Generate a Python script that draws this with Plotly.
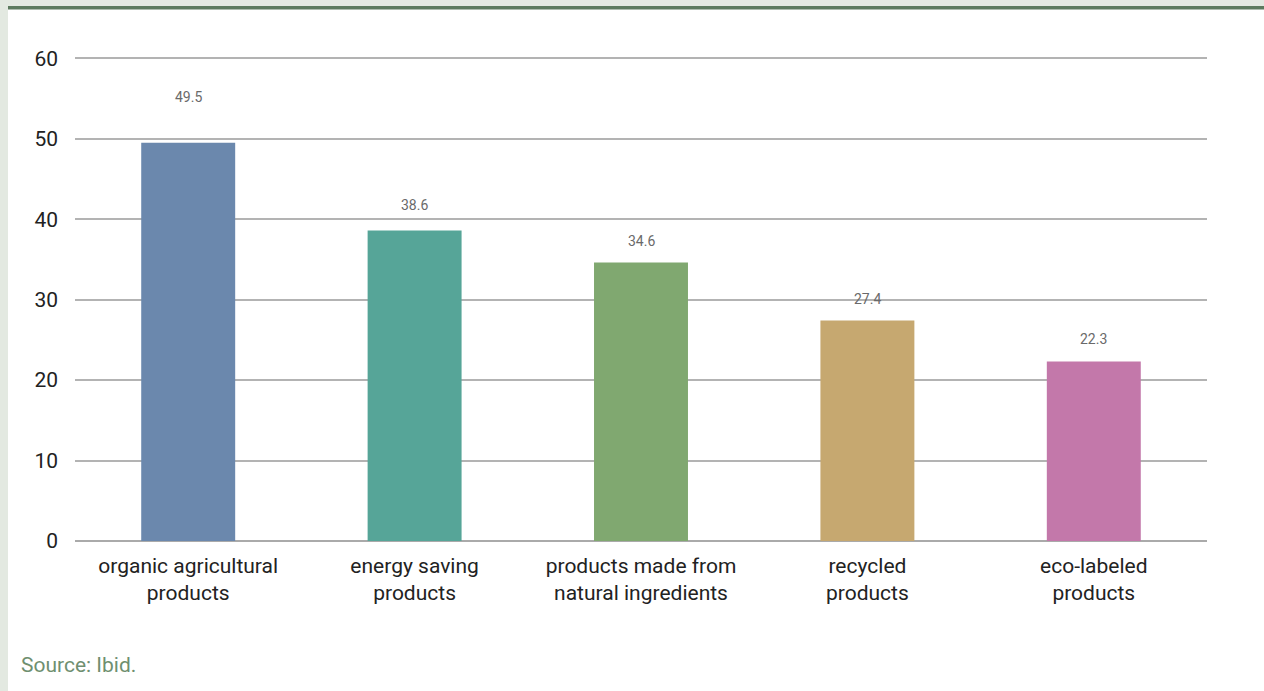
import plotly.graph_objects as go

categories = ["organic agricultural<br>products", "energy saving<br>products",
              "products made from<br>natural ingredients", "recycled<br>products",
              "eco-labeled<br>products"]
values = [49.5, 38.6, 34.6, 27.4, 22.3]
colors = ["#6b88ad", "#56a598", "#80a870", "#c6a870", "#c378aa"]
tick_vals = [0, 10, 20, 30, 40, 50, 60]
label_offsets_px = [46, 25, 22, 22, 23]

W, H = 1264, 691
L, R, T, B = 75, 57, 55, 150
pw, ph = W - L - R, H - T - B

def px(x):
    return (x - L) / pw

def py(y):
    return (H - B - y) / ph

fig = go.Figure(go.Bar(
    x=categories, y=values, marker_color=colors, marker_line_width=0,
    width=0.415,
))

shapes = [
    dict(type="rect", xref="paper", yref="paper", x0=px(8), x1=px(W + 5),
         y0=py(9), y1=py(H + 5), fillcolor="white", line_width=0, layer="below"),
    dict(type="rect", xref="paper", yref="paper", x0=px(8), x1=px(W + 5),
         y0=py(6), y1=py(9.5), fillcolor="#5c7a5e", line_width=0, layer="below"),
]

annotations = [dict(x=c, y=v, text=f"{v:.1f}", xref="x", yref="y",
                    showarrow=False, yanchor="middle", yshift=o,
                    font=dict(family="Roboto", size=14, color="#6a6a6a"))
               for c, v, o in zip(categories, values, label_offsets_px)]
annotations.append(dict(text="Source: Ibid.", xref="paper", yref="paper",
                        x=px(19), y=py(665), xanchor="left", yanchor="middle",
                        showarrow=False,
                        font=dict(family="Roboto", size=21, color="#6f8f70")))

fig.update_layout(
    width=W, height=H,
    margin=dict(l=L, r=R, t=T, b=B),
    paper_bgcolor="#e3e9e1", plot_bgcolor="rgba(0,0,0,0)",
    showlegend=False,
    shapes=shapes,
    font=dict(family="Roboto", color="#222"),
    xaxis=dict(showgrid=False, showline=False, ticks="",
               tickfont=dict(size=21, color="#222"), ticklabelstandoff=10),
    yaxis=dict(range=[0, 60.4], tickvals=tick_vals, showgrid=True,
               gridcolor="#b3b3b3", gridwidth=1.5, zeroline=True,
               zerolinecolor="#aaaaaa", zerolinewidth=1.5,
               tickfont=dict(size=21, color="#222"), ticklabelstandoff=16),
    annotations=annotations,
)

fig.write_html("out.html")
